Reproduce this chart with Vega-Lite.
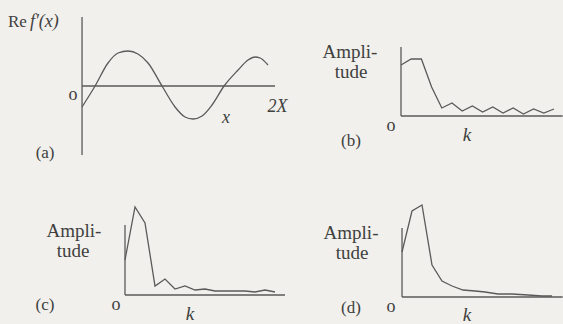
{
  "$schema": "https://vega.github.io/schema/vega-lite/v6.json",
  "background": "#f1f0ec",
  "padding": 0,
  "spacing": 0,
  "columns": 2,
  "config": {
    "view": {"stroke": null},
    "axis": {"disable": true},
    "text": {"font": "Liberation Serif", "fill": "#404040", "baseline": "alphabetic", "align": "center", "fontSize": 19},
    "rule": {"stroke": "#5a5a5a", "strokeWidth": 1.3},
    "line": {"stroke": "#5a5a5a", "strokeWidth": 1.3}
  },
  "datasets": {
    "wave": [
      {"x": 0.0, "re": -0.6},
      {"x": 0.135, "re": 0.0},
      {"x": 0.269, "re": 0.657},
      {"x": 0.373, "re": 0.943},
      {"x": 0.477, "re": 1.0},
      {"x": 0.58, "re": 0.914},
      {"x": 0.684, "re": 0.657},
      {"x": 0.829, "re": 0.0},
      {"x": 0.964, "re": -0.6},
      {"x": 1.067, "re": -0.886},
      {"x": 1.15, "re": -0.943},
      {"x": 1.244, "re": -0.857},
      {"x": 1.347, "re": -0.543},
      {"x": 1.472, "re": 0.0},
      {"x": 1.617, "re": 0.457},
      {"x": 1.72, "re": 0.743},
      {"x": 1.793, "re": 0.829},
      {"x": 1.845, "re": 0.8},
      {"x": 1.927, "re": 0.6}
    ],
    "spectrumB": [
      {"k": 0, "amp": 5.1}, {"k": 1, "amp": 5.7}, {"k": 2, "amp": 5.7}, {"k": 3, "amp": 2.9},
      {"k": 4, "amp": 0.8}, {"k": 5, "amp": 1.3}, {"k": 6, "amp": 0.5}, {"k": 7, "amp": 1.0},
      {"k": 8, "amp": 0.4}, {"k": 9, "amp": 0.9}, {"k": 10, "amp": 0.3}, {"k": 11, "amp": 0.8},
      {"k": 12, "amp": 0.2}, {"k": 13, "amp": 0.7}, {"k": 14, "amp": 0.3}, {"k": 15, "amp": 0.7}
    ],
    "spectrumC": [
      {"k": 0, "amp": 3.5}, {"k": 1, "amp": 8.8}, {"k": 2, "amp": 7.2}, {"k": 3, "amp": 0.9},
      {"k": 4, "amp": 1.6}, {"k": 5, "amp": 0.6}, {"k": 6, "amp": 0.9}, {"k": 7, "amp": 0.5},
      {"k": 8, "amp": 0.6}, {"k": 9, "amp": 0.4}, {"k": 10, "amp": 0.4}, {"k": 11, "amp": 0.4},
      {"k": 12, "amp": 0.4}, {"k": 13, "amp": 0.3}, {"k": 14, "amp": 0.5}, {"k": 15, "amp": 0.3}
    ],
    "spectrumD": [
      {"k": 0, "amp": 4.5}, {"k": 0.98, "amp": 8.6}, {"k": 1.96, "amp": 9.2}, {"k": 2.94, "amp": 3.2},
      {"k": 3.92, "amp": 1.6}, {"k": 4.9, "amp": 1.1}, {"k": 5.98, "amp": 0.7}, {"k": 7.16, "amp": 0.6},
      {"k": 8.14, "amp": 0.5}, {"k": 9.41, "amp": 0.3}, {"k": 10.78, "amp": 0.3}, {"k": 12.35, "amp": 0.2},
      {"k": 13.73, "amp": 0.1}, {"k": 14.71, "amp": 0.1}
    ]
  },
  "concat": [
    {
      "width": 290,
      "height": 170,
      "layer": [
        {
          "data": {"name": "wave"},
          "mark": {"type": "line", "interpolate": "monotone"},
          "encoding": {
            "x": {"field": "x", "type": "quantitative", "axis": null, "scale": {"domain": [-0.85, 2.155], "nice": false, "zero": false}},
            "y": {"field": "re", "type": "quantitative", "axis": null, "scale": {"domain": [-2.4, 2.457], "nice": false, "zero": false}}
          }
        },
        {
          "data": {"values": [{}]},
          "mark": {"type": "rule"},
          "encoding": {"x": {"datum": 0}, "y": {"datum": -1.971}, "y2": {"datum": 1.971}}
        },
        {
          "data": {"values": [{}]},
          "mark": {"type": "rule"},
          "encoding": {"y": {"datum": 0}, "x": {"datum": 0}, "x2": {"datum": 2.0}}
        },
        {
          "data": {"values": [{}]},
          "mark": {"type": "text", "text": "Re", "align": "left", "fontSize": 17},
          "encoding": {"x": {"datum": -0.767}, "y": {"datum": 1.686}}
        },
        {
          "data": {"values": [{}]},
          "mark": {"type": "text", "text": "f′(x)", "align": "left", "fontSize": 18, "fontStyle": "italic"},
          "encoding": {"x": {"datum": -0.54}, "y": {"datum": 1.686}}
        },
        {
          "data": {"values": [{}]},
          "mark": {"type": "text", "text": "o", "fontSize": 18},
          "encoding": {"x": {"datum": -0.093}, "y": {"datum": -0.4}}
        },
        {
          "data": {"values": [{}]},
          "mark": {"type": "text", "text": "2X", "fontSize": 18, "fontStyle": "italic"},
          "encoding": {"x": {"datum": 2.026}, "y": {"datum": -0.743}}
        },
        {
          "data": {"values": [{}]},
          "mark": {"type": "text", "text": "x", "fontSize": 18, "fontStyle": "italic"},
          "encoding": {"x": {"datum": 1.492}, "y": {"datum": -1.057}}
        },
        {
          "data": {"values": [{}]},
          "mark": {"type": "text", "text": "(a)", "fontSize": 17},
          "encoding": {"x": {"datum": -0.383}, "y": {"datum": -2.057}}
        }
      ]
    },
    {
      "width": 273,
      "height": 170,
      "layer": [
        {
          "data": {"name": "spectrumB"},
          "mark": {"type": "line"},
          "encoding": {
            "x": {"field": "k", "type": "quantitative", "axis": null, "scale": {"domain": [-10.882, 15.882], "nice": false, "zero": false}},
            "y": {"field": "amp", "type": "quantitative", "axis": null, "scale": {"domain": [-5.4, 11.6], "nice": false, "zero": false}}
          }
        },
        {
          "data": {"values": [{}]},
          "mark": {"type": "rule"},
          "encoding": {"x": {"datum": 0}, "y": {"datum": 0}, "y2": {"datum": 6.9}}
        },
        {
          "data": {"values": [{}]},
          "mark": {"type": "rule"},
          "encoding": {"y": {"datum": 0}, "x": {"datum": 0}, "x2": {"datum": 15.85}}
        },
        {
          "data": {"values": [{}]},
          "mark": {"type": "text", "text": "Ampli-"},
          "encoding": {"x": {"datum": -5.0}, "y": {"datum": 5.8}}
        },
        {
          "data": {"values": [{}]},
          "mark": {"type": "text", "text": "tude"},
          "encoding": {"x": {"datum": -4.9}, "y": {"datum": 3.8}}
        },
        {
          "data": {"values": [{}]},
          "mark": {"type": "text", "text": "o", "fontSize": 18},
          "encoding": {"x": {"datum": -0.98}, "y": {"datum": -1.5}}
        },
        {
          "data": {"values": [{}]},
          "mark": {"type": "text", "text": "k", "fontStyle": "italic"},
          "encoding": {"x": {"datum": 6.47}, "y": {"datum": -2.5}}
        },
        {
          "data": {"values": [{}]},
          "mark": {"type": "text", "text": "(b)", "fontSize": 17},
          "encoding": {"x": {"datum": -4.9}, "y": {"datum": -3.0}}
        }
      ]
    },
    {
      "width": 290,
      "height": 154,
      "layer": [
        {
          "data": {"name": "spectrumC"},
          "mark": {"type": "line"},
          "encoding": {
            "x": {"field": "k", "type": "quantitative", "axis": null, "scale": {"domain": [-12.5, 16.5], "nice": false, "zero": false}},
            "y": {"field": "amp", "type": "quantitative", "axis": null, "scale": {"domain": [-2.9, 12.5], "nice": false, "zero": false}}
          }
        },
        {
          "data": {"values": [{}]},
          "mark": {"type": "rule"},
          "encoding": {"x": {"datum": 0}, "y": {"datum": 0}, "y2": {"datum": 7.0}}
        },
        {
          "data": {"values": [{}]},
          "mark": {"type": "rule"},
          "encoding": {"y": {"datum": 0}, "x": {"datum": 0}, "x2": {"datum": 16.0}}
        },
        {
          "data": {"values": [{}]},
          "mark": {"type": "text", "text": "Ampli-"},
          "encoding": {"x": {"datum": -5.1}, "y": {"datum": 5.8}}
        },
        {
          "data": {"values": [{}]},
          "mark": {"type": "text", "text": "tude"},
          "encoding": {"x": {"datum": -5.2}, "y": {"datum": 3.8}}
        },
        {
          "data": {"values": [{}]},
          "mark": {"type": "text", "text": "o", "fontSize": 18},
          "encoding": {"x": {"datum": -0.9}, "y": {"datum": -1.5}}
        },
        {
          "data": {"values": [{}]},
          "mark": {"type": "text", "text": "k", "fontStyle": "italic"},
          "encoding": {"x": {"datum": 6.5}, "y": {"datum": -2.5}}
        },
        {
          "data": {"values": [{}]},
          "mark": {"type": "text", "text": "(c)", "fontSize": 17},
          "encoding": {"x": {"datum": -8.0}, "y": {"datum": -1.5}}
        }
      ]
    },
    {
      "width": 273,
      "height": 154,
      "layer": [
        {
          "data": {"name": "spectrumD"},
          "mark": {"type": "line"},
          "encoding": {
            "x": {"field": "k", "type": "quantitative", "axis": null, "scale": {"domain": [-10.98, 15.78], "nice": false, "zero": false}},
            "y": {"field": "amp", "type": "quantitative", "axis": null, "scale": {"domain": [-2.7, 12.7], "nice": false, "zero": false}}
          }
        },
        {
          "data": {"values": [{}]},
          "mark": {"type": "rule"},
          "encoding": {"x": {"datum": 0}, "y": {"datum": 0}, "y2": {"datum": 6.9}}
        },
        {
          "data": {"values": [{}]},
          "mark": {"type": "rule"},
          "encoding": {"y": {"datum": 0}, "x": {"datum": 0}, "x2": {"datum": 15.75}}
        },
        {
          "data": {"values": [{}]},
          "mark": {"type": "text", "text": "Ampli-"},
          "encoding": {"x": {"datum": -5.0}, "y": {"datum": 5.8}}
        },
        {
          "data": {"values": [{}]},
          "mark": {"type": "text", "text": "tude"},
          "encoding": {"x": {"datum": -4.9}, "y": {"datum": 3.8}}
        },
        {
          "data": {"values": [{}]},
          "mark": {"type": "text", "text": "o", "fontSize": 18},
          "encoding": {"x": {"datum": -1.08}, "y": {"datum": -1.5}}
        },
        {
          "data": {"values": [{}]},
          "mark": {"type": "text", "text": "k", "fontStyle": "italic"},
          "encoding": {"x": {"datum": 6.37}, "y": {"datum": -2.4}}
        },
        {
          "data": {"values": [{}]},
          "mark": {"type": "text", "text": "(d)", "fontSize": 17},
          "encoding": {"x": {"datum": -5.0}, "y": {"datum": -1.6}}
        }
      ]
    }
  ]
}
